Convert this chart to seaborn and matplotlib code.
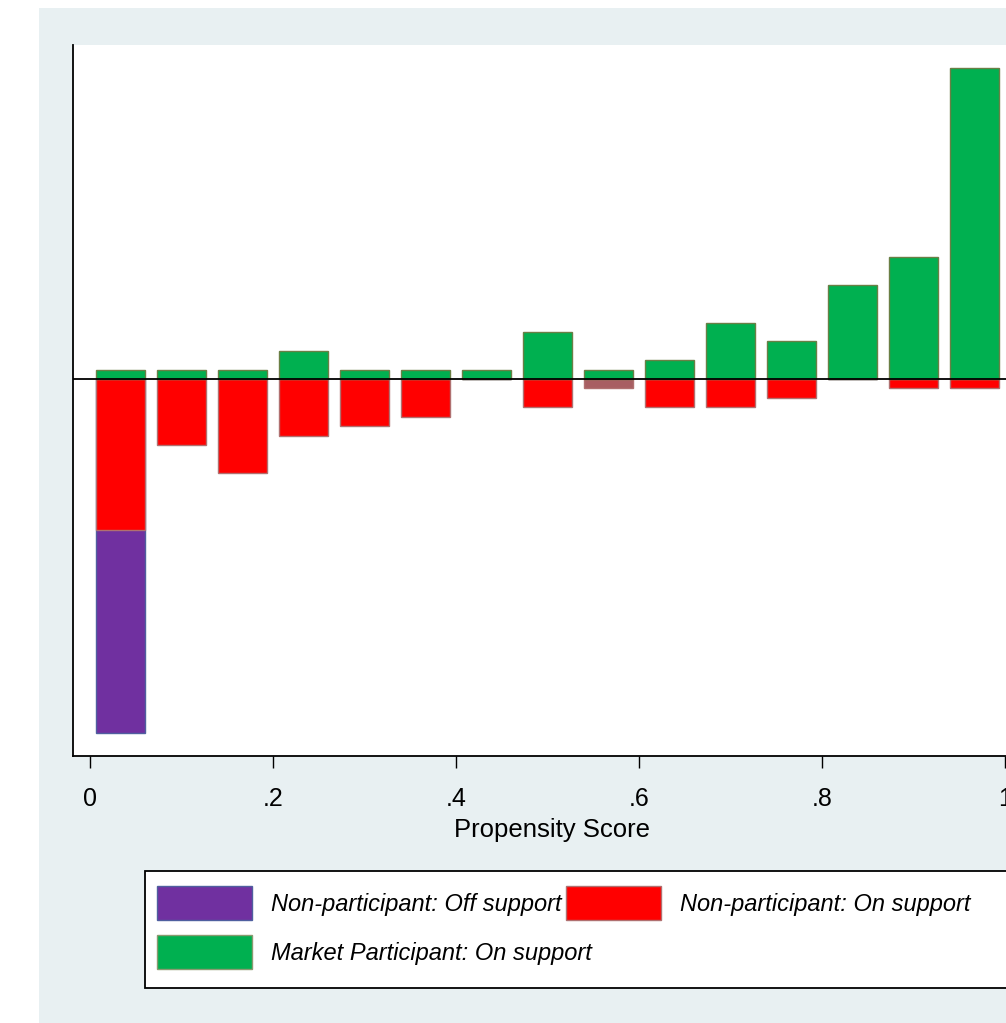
import numpy as np
import matplotlib
matplotlib.use('Agg')
import matplotlib.pyplot as plt
from matplotlib.patches import Patch, Rectangle
import seaborn as sns

# bin centres of the propensity score (15 bins)
score_bins = [0.0333, 0.1, 0.1667, 0.2333, 0.3, 0.3667, 0.4333, 0.5,
              0.5667, 0.6333, 0.7, 0.7667, 0.8333, 0.9, 0.9667]
# counts per bin
participant_on = [1, 1, 1, 3, 1, 1, 1, 5, 1, 2, 6, 4, 10, 13, 33]
nonpart_on = [16, 7, 10, 6, 5, 4, 0, 3, 1, 3, 3, 2, 0, 1, 1]
nonpart_off = [21.6, 0, 0, 0, 0, 0, 0, 0, 0, 0, 0, 0, 0, 0, 0]
nonpart_on_colors = ['#ff0000'] * 8 + ['#a85e62'] + ['#ff0000'] * 6

xticks = [0, 0.2, 0.4, 0.6, 0.8, 1.0]
xtick_labels = ['0', '.2', '.4', '.6', '.8', '1']
legend_labels = ['Non-participant: Off support', 'Market Participant: On support',
                 'Non-participant: On support']

purple = '#7030a0'
red = '#ff0000'
green = '#00b050'
bg = '#e8f0f2'

sns.set_style('white')
plt.rcParams['font.family'] = ['Liberation Sans', 'DejaVu Sans']
plt.rcParams['text.color'] = 'black'
plt.rcParams['axes.labelcolor'] = 'black'
plt.rcParams['xtick.color'] = 'black'

W, H = 1006, 1023
fig = plt.figure(figsize=(W / 100, H / 100), dpi=100, facecolor='white')
fig.patches.append(Rectangle((39 / W, 0), 1.2, 1 - 8 / H, transform=fig.transFigure,
                             facecolor=bg, edgecolor='none', zorder=-1))

ax = fig.add_axes([73 / W, 1 - 756 / H, (1031 - 73) / W, (756 - 45) / H])
ax.set_zorder(2)
ax.set_facecolor('white')

off_total = [-(a + b) if a > 0 else 0 for a, b in zip(nonpart_off, nonpart_on)]
sns.barplot(x=score_bins, y=off_total, native_scale=True, width=0.8, color=purple,
            saturation=1, edgecolor='#4f5f9f', linewidth=1, errorbar=None, ax=ax)
n0 = len(ax.patches)
sns.barplot(x=score_bins, y=[-v for v in nonpart_on], native_scale=True, width=0.8,
            color=red, saturation=1, edgecolor='#b07070', linewidth=1, errorbar=None, ax=ax)
for p, c in zip(ax.patches[n0:], nonpart_on_colors):
    p.set_facecolor(c)
sns.barplot(x=score_bins, y=participant_on, native_scale=True, width=0.8, color=green,
            saturation=1, edgecolor='#6a7f45', linewidth=1, errorbar=None, ax=ax)

ax.axhline(0, color='black', lw=1.3, zorder=5)

ax.set_xlim(-0.01858, -0.01858 + (1031 - 73) / 915)
ax.set_ylim(-40.0, 35.45)
ax.set_xticks(xticks)
ax.set_xticklabels(xtick_labels)
ax.set_yticks([])
ax.tick_params(axis='x', direction='out', length=8.5, width=1, color='black',
               labelsize=18, pad=13.5, bottom=True)
ax.set_xlabel('Propensity Score', fontsize=18.5, labelpad=5)
ax.set_ylabel('')
for s in ['top', 'right']:
    ax.spines[s].set_visible(False)
for s in ['left', 'bottom']:
    ax.spines[s].set_color('black')
    ax.spines[s].set_linewidth(1.3)

# legend
fig.patches.append(Rectangle((145 / W, 1 - 988 / H), 1.2, (988 - 871) / H,
                             transform=fig.transFigure, facecolor='white',
                             edgecolor='black', lw=1.3, zorder=1))
handles = [Patch(facecolor=purple, edgecolor='#4f5f9f'),
           Patch(facecolor=green, edgecolor='#8a9a70'),
           Patch(facecolor=red, edgecolor='#b07070')]
fs = 17
fpx = fs * 100 / 72
leg = fig.legend(handles, legend_labels, ncol=2, loc='upper left',
                 bbox_to_anchor=(157 / W, 1 - 886 / H), borderaxespad=0, borderpad=0,
                 frameon=False, handlelength=95 / fpx, handleheight=35 / 0.8 / fpx,
                 handletextpad=19 / fpx, columnspacing=-26 / fpx, labelspacing=15 / fpx,
                 prop={'family': ['Liberation Sans'], 'style': 'italic', 'size': fs})
leg.set_zorder(3)

fig.savefig('out.png', dpi=100, facecolor='white')
